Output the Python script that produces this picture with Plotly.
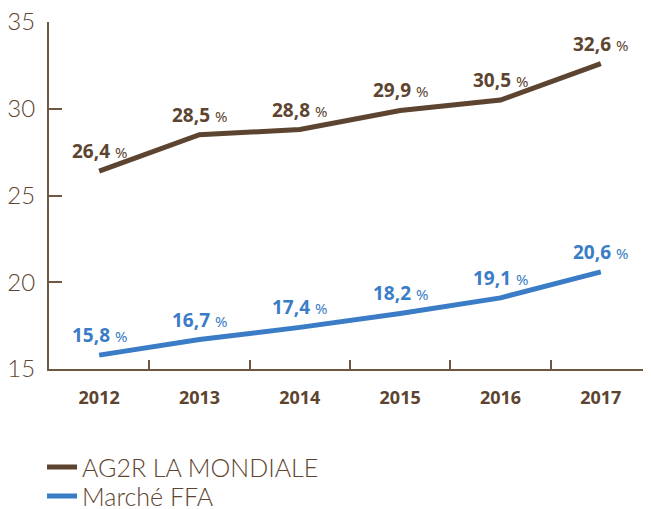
import plotly.graph_objects as go

years = ["2012", "2013", "2014", "2015", "2016", "2017"]
ag2r = [26.4, 28.5, 28.8, 29.9, 30.5, 32.6]
ffa = [15.8, 16.7, 17.4, 18.2, 19.1, 20.6]
y_ticks = [15, 20, 25, 30, 35]
series_names = ["AG2R LA MONDIALE", "Marché FFA"]

BROWN = "#5c4430"
BLUE = "#3a7cc6"
AXIS = "#6e5843"


def fmt(v):
    return ("<b>" + f"{v:.1f}".replace(".", ",") + "</b>"
            " <span style='font-size:15px'>%</span>")


fig = go.Figure()
for name, vals, color, leg in [(series_names[0], ag2r, BROWN, "legend"),
                               (series_names[1], ffa, BLUE, "legend2")]:
    fig.add_trace(go.Scatter(
        x=years, y=vals, name=name, legend=leg,
        mode="lines",
        line=dict(color=color, width=5),
        cliponaxis=False,
    ))
    for i, v in enumerate(vals):
        fig.add_annotation(
            x=i, y=v, text=fmt(v), showarrow=False,
            yshift=20, xshift=0,
            font=dict(family="Noto Sans", size=19, color=color),
        )

legend_style = dict(
    xanchor="left", yanchor="middle",
    font=dict(family="Lato", size=25, color=BROWN, weight=300),
    itemwidth=30,
    bgcolor="rgba(0,0,0,0)",
)

fig.update_layout(
    width=643, height=501,
    margin=dict(l=41, r=0, t=14, b=140, autoexpand=False),
    paper_bgcolor="white", plot_bgcolor="white",
    showlegend=True,
    legend=dict(x=-0.0116, y=-0.283, **legend_style),
    legend2=dict(x=-0.0116, y=-0.367, **legend_style),
    xaxis=dict(
        type="category", range=[-0.5, 5.5], automargin=False,
        showgrid=False, showline=True, linecolor=AXIS, linewidth=2,
        ticks="inside", tickson="boundaries", ticklen=9, tickwidth=1.5, tickcolor=AXIS,
        tickfont=dict(family="Noto Sans", size=18, color=BROWN, weight="bold"),
        ticklabelstandoff=11,
        zeroline=False,
    ),
    yaxis=dict(
        range=[15, 35], tickvals=y_ticks, automargin=False,
        showgrid=False, showline=True, linecolor=AXIS, linewidth=2,
        ticks="inside", ticklen=13, tickwidth=1.5, tickcolor=AXIS,
        tickfont=dict(family="Lato", size=24, color=BROWN, weight=300),
        ticklabelstandoff=7, ticklabeloverflow="allow",
        zeroline=False,
    ),
)

fig.write_html("out.html")
